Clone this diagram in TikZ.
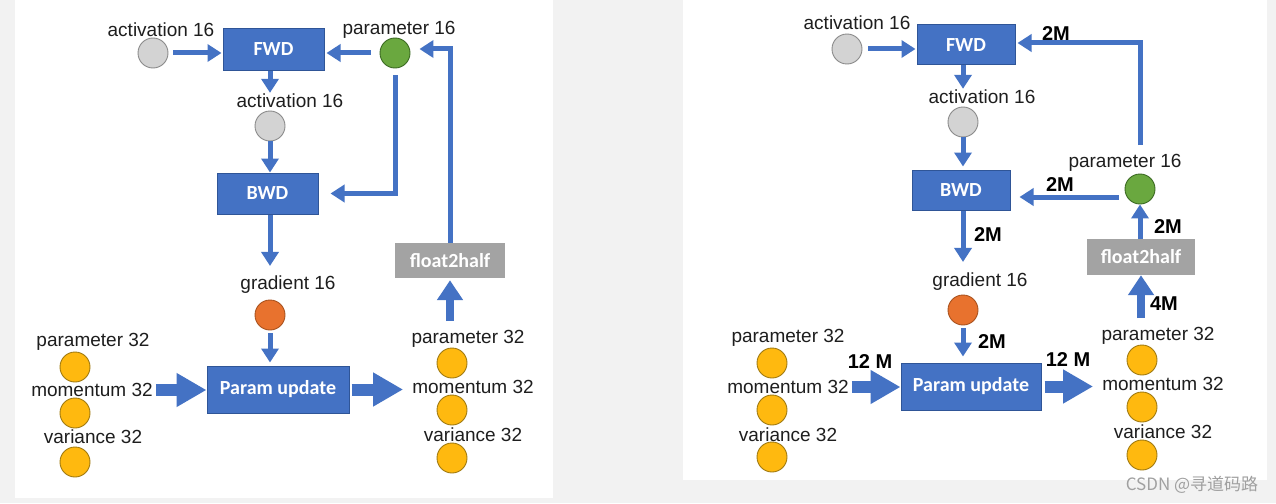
\documentclass[tikz,border=0pt]{standalone}
\usepackage{fontspec}
\setmainfont{Liberation Sans}
\newfontfamily\boxfont{Carlito}
\newfontfamily\cjk{Noto Sans CJK SC}
\usetikzlibrary{arrows.meta}
\definecolor{bgc}{HTML}{F2F2F2}
\definecolor{txt}{HTML}{1E1E1E}
\definecolor{bluebox}{HTML}{4472C4}
\definecolor{blueedge}{HTML}{2F5597}
\definecolor{arrblue}{HTML}{4472C4}
\definecolor{grayfill}{HTML}{D3D3D3}
\definecolor{grayedge}{HTML}{8A8A8A}
\definecolor{greenfill}{HTML}{6AA83F}
\definecolor{greenedge}{HTML}{3B6A22}
\definecolor{orangefill}{HTML}{E8722E}
\definecolor{orangeedge}{HTML}{A9521E}
\definecolor{yellowfill}{HTML}{FFB90F}
\definecolor{yellowedge}{HTML}{A07A10}
\definecolor{f2hfill}{HTML}{A3A3A3}
\definecolor{wmark}{HTML}{A0A0A0}
\tikzset{
  lbl/.style={font=\fontsize{19}{22}\selectfont, text=txt, inner sep=1pt},
  lblnum/.style={font=\fontsize{20}{23}\selectfont\bfseries, text=black, inner sep=1pt},
  blk/.style={draw=blueedge, fill=bluebox, line width=1pt, text=white,
    font=\boxfont\fontsize{20}{24}\selectfont\bfseries, inner sep=0pt},
  gbox/.style={fill=f2hfill, draw=none, text=white,
    font=\boxfont\fontsize{20}{24}\selectfont\bfseries, inner sep=0pt},
  circ/.style={circle, minimum size=30pt, inner sep=0pt, line width=0.9pt},
  graydot/.style={circ, fill=grayfill, draw=grayedge},
  greendot/.style={circ, fill=greenfill, draw=greenedge},
  orangedot/.style={circ, fill=orangefill, draw=orangeedge},
  yellowdot/.style={circ, fill=yellowfill, draw=yellowedge},
  arr/.style={draw=arrblue, line width=5pt, -{Triangle[width=17pt,length=14pt]}},
  fatarr/.style={draw=arrblue, line width=12pt, -{Triangle[width=32pt,length=30pt]}},
  upfat/.style={draw=arrblue, line width=8pt, -{Triangle[width=25pt,length=20pt]}},
}
\begin{document}
\begin{tikzpicture}[x=1pt,y=-1pt]
\useasboundingbox (0,0) rectangle (1276,503);
\fill[bgc] (0,0) rectangle (1276,503);
\fill[white] (15,0) rectangle (553,498);
\fill[white] (683,0) rectangle (1267,480);

% ---------------- Left panel ----------------
\node[graydot] (La1) at (153,53) {};
\node[lbl] (La1t) at (161,30) {activation 16};
\node[blk, minimum width=101pt, minimum height=41pt] (Lfwd) at (273.5,49.5) {FWD};
\node[greendot] (Lp16) at (395,53) {};
\node[lbl] (Lp16t) at (399,30) {parameter 16};
\node[lbl] (La2t) at (290,101) {activation 16};
\node[graydot] (La2) at (270,126) {};
\node[blk, minimum width=101pt, minimum height=41pt] (Lbwd) at (267.5,193.5) {BWD};
\node[lbl] (Lgt) at (288,285) {gradient 16};
\node[orangedot] (Lg) at (270,315) {};
\node[blk, minimum width=142pt, minimum height=47pt] (Lpu) at (278,389.5) {Param update};
\node[gbox, minimum width=110pt, minimum height=35pt] (Lf2h) at (450,260.5) {float2half};

\node[lbl] (Llpt) at (93,342) {parameter 32};
\node[yellowdot] (Llp) at (75,367) {};
\node[lbl] (Llmt) at (92,390) {momentum 32};
\node[yellowdot] (Llm) at (75,413) {};
\node[lbl] (Llvt) at (93,437) {variance 32};
\node[yellowdot] (Llv) at (75,462) {};

\node[lbl] (Lrpt) at (468,339) {parameter 32};
\node[yellowdot] (Lrp) at (452,363) {};
\node[lbl] (Lrmt) at (473,387) {momentum 32};
\node[yellowdot] (Lrm) at (452,410) {};
\node[lbl] (Lrvt) at (473,435) {variance 32};
\node[yellowdot] (Lrv) at (452,458) {};

\draw[arr, shorten <=5pt, shorten >=1pt] (La1.east) -- (La1.east -| Lfwd.west);
\draw[arr, shorten <=9pt, shorten >=2pt] (Lp16.west) -- (Lp16.west -| Lfwd.east);
\draw[arr] (Lfwd.south -| La2) -- (La2t.north -| La2);
\draw[arr] (La2) -- (La2 |- Lbwd.north);
\draw[arr, shorten <=7pt, shorten >=12pt] (Lp16.south) |- (Lbwd.east);
\draw[arr, shorten >=9pt] (Lbwd.south -| La2) -- (Lgt.north -| La2);
\draw[arr, shorten <=3pt, shorten >=3pt] (Lg) -- (Lg |- Lpu.north);
\draw[arr, shorten >=9pt] (Lf2h.north) |- ([yshift=4pt]Lp16.east);
\draw[fatarr, shorten <=2pt] (Llmt.east) -- (Llmt.east -| Lpu.west);
\draw[fatarr, shorten <=2pt, shorten >=8pt] (Lpu.east) -- (Lpu.east -| Lrmt.west);
\draw[upfat, shorten <=8pt, shorten >=2pt] (Lf2h.south |- Lrpt.north) -- (Lf2h.south);

% ---------------- Right panel ----------------
\node[graydot] (Ra1) at (847,49) {};
\node[lbl] (Ra1t) at (857,23) {activation 16};
\node[blk, minimum width=98pt, minimum height=40pt] (Rfwd) at (966,45) {FWD};
\node[lblnum] (R2Ma) at (1056,34) {2M};
\node[lbl] (Ra2t) at (982,97) {activation 16};
\node[graydot] (Ra2) at (963,122) {};
\node[blk, minimum width=98pt, minimum height=40pt] (Rbwd) at (961,190) {BWD};
\node[lbl] (Rp16t) at (1125,163) {parameter 16};
\node[greendot] (Rp16) at (1140,189) {};
\node[lblnum] (R2Mb) at (1060,185) {2M};
\node[gbox, minimum width=108pt, minimum height=36pt] (Rf2h) at (1141,257) {float2half};
\node[lblnum] (R2Mc) at (1168,227) {2M};
\node[lblnum] (R2Md) at (988,235) {2M};
\node[lbl] (Rgt) at (980,282) {gradient 16};
\node[orangedot] (Rg) at (963,310) {};
\node[lblnum] (R2Me) at (992,342) {2M};
\node[blk, minimum width=140pt, minimum height=47pt] (Rpu) at (971,386.5) {Param update};

\node[lbl] (Rlpt) at (788,338) {parameter 32};
\node[yellowdot] (Rlp) at (772,363) {};
\node[lbl] (Rlmt) at (788,387) {momentum 32};
\node[yellowdot] (Rlm) at (772,410) {};
\node[lbl] (Rlvt) at (788,435) {variance 32};
\node[yellowdot] (Rlv) at (772,457) {};

\node[lblnum] (R12a) at (870,362) {12 M};
\node[lblnum] (R12b) at (1068,360) {12 M};

\node[lbl] (Rrpt) at (1158,336) {parameter 32};
\node[yellowdot] (Rrp) at (1142,360) {};
\node[lbl] (Rrmt) at (1163,384) {momentum 32};
\node[yellowdot] (Rrm) at (1142,407) {};
\node[lbl] (Rrvt) at (1163,432) {variance 32};
\node[yellowdot] (Rrv) at (1142,455) {};
\node[lblnum] (R4M) at (1164,304) {4M};

\node[font=\cjk\fontsize{17}{20}\selectfont, text=wmark, inner sep=0pt] (wm) at (1192,485) {CSDN @寻道码路};

\draw[arr, shorten <=6pt, shorten >=1pt] (Ra1.east) -- (Ra1.east -| Rfwd.west);
\draw[arr, shorten >=2pt] ([yshift=8pt]Rp16t.north -| Rp16) |- ([yshift=2pt]Rfwd.east);
\draw[arr] (Rfwd.south -| Ra2) -- (Ra2t.north -| Ra2);
\draw[arr, shorten >=3pt] (Ra2) -- (Ra2 |- Rbwd.north);
\draw[arr, shorten <=6pt, shorten >=9pt] ([yshift=-8pt]Rp16.west) -- ([yshift=-8pt]Rp16.west -| Rbwd.east);
\draw[arr] (Rf2h.north -| Rp16) -- (Rp16.south);
\draw[arr, shorten >=10pt] (Rbwd.south -| Ra2) -- (Rgt.north -| Ra2);
\draw[arr, shorten <=3pt, shorten >=6pt] (Rg) -- (Rg |- Rpu.north);
\draw[fatarr, shorten <=2pt] (Rlmt.east) -- (Rlmt.east -| Rpu.west);
\draw[fatarr, shorten <=3pt, shorten >=8pt] (Rpu.east) -- (Rpu.east -| Rrmt.west);
\draw[upfat, shorten <=8pt] (Rf2h.south |- Rrpt.north) -- (Rf2h.south);
\end{tikzpicture}
\end{document}
